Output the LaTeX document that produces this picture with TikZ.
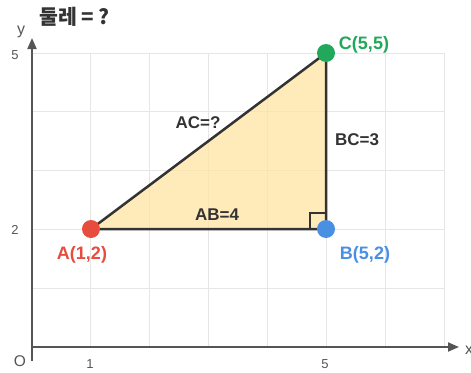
\documentclass[tikz,border=0pt]{standalone}
\usepackage{fontspec}
\setmainfont{Liberation Sans}
\newfontfamily\krfont{Noto Sans CJK KR}
\usetikzlibrary{arrows.meta}
\definecolor{axisgray}{HTML}{555555}
\definecolor{gridgray}{HTML}{E6E6E6}
\definecolor{edgedark}{HTML}{333333}
\definecolor{trifill}{HTML}{FFE3A3}
\definecolor{ptred}{HTML}{E74C3C}
\definecolor{ptblue}{HTML}{4A90E2}
\definecolor{ptgreen}{HTML}{22A85A}
\tikzset{
  gridline/.style={draw=gridgray, line width=1pt},
  axisline/.style={draw=axisgray, line width=2pt, -{Triangle[length=11pt,width=9pt]}},
  ticklbl/.style={font=\fontsize{13}{13}\selectfont, text=axisgray, inner sep=0pt},
  dot/.style={circle, inner sep=0pt, minimum size=18pt},
  ptlbl/.style={font=\fontsize{18}{18}\selectfont\bfseries, inner sep=0pt},
  seglbl/.style={font=\fontsize{17}{17}\selectfont\bfseries, text=edgedark, inner sep=0pt},
  edge/.style={draw=edgedark, line width=2.5pt, line join=round}
}
\begin{document}
\begin{tikzpicture}[x=1pt,y=-1pt]
\useasboundingbox (0,0) rectangle (471,372);
% grid
\foreach \i in {1,...,7} {
  \draw[gridline] ({32+58.86*\i},53) -- ({32+58.86*\i},347);
}
\foreach \j in {1,...,5} {
  \draw[gridline] (32,{347-58.8*\j}) -- (444,{347-58.8*\j});
}
% axes
\coordinate (xs) at (32,347);
\coordinate (xe) at (459,347);
\coordinate (ys) at (32,361);
\coordinate (ye) at (32,38);
\draw[axisline] (xs) -- (xe);
\draw[axisline] (ys) -- (ye);
% points
\coordinate (A) at (91,229);
\coordinate (B) at (326,229);
\coordinate (C) at (326,53);
\fill[trifill, fill opacity=0.75] (A) -- (B) -- (C) -- cycle;
\draw[edge] (A) -- (B) -- (C) -- cycle;
% right angle mark
\coordinate (r1) at (310,229);
\coordinate (r2) at (310,213);
\coordinate (r3) at (326,213);
\draw[draw=edgedark, line width=1.6pt] (r1) -- (r2) -- (r3);
\node[dot, fill=ptred] (dA) at (A) {};
\node[dot, fill=ptblue] (dB) at (B) {};
\node[dot, fill=ptgreen] (dC) at (C) {};
% labels
\node[ptlbl, text=ptred] (lA) at (82,255) {A(1,2)};
\node[ptlbl, text=ptblue] (lB) at (365,255) {B(5,2)};
\node[ptlbl, text=ptgreen] (lC) at (364,45) {C(5,5)};
\node[seglbl] (lAC) at (198,123) {AC=?};
\node[seglbl] (lBC) at (357,140) {BC=3};
\node[seglbl] (lAB) at (217,215) {AB=4};
% ticks
\node[ticklbl] (t1) at (90,364) {1};
\node[ticklbl] (t5) at (325,364) {5};
\node[ticklbl] (t2) at (15,230) {2};
\node[ticklbl] (t5y) at (15,55) {5};
\node[ticklbl, font=\fontsize{15.5}{15.5}\selectfont] (tO) at (20,361) {O};
\node[ticklbl, font=\fontsize{16}{16}\selectfont, anchor=west] (tx) at (465,350) {x};
\node[ticklbl, font=\fontsize{16}{16}\selectfont] (ty) at (21,32) {y};
% title
\node[font=\krfont\bfseries\fontsize{20.5}{20.5}\selectfont, text=edgedark, inner sep=0pt, anchor=west] (title) at (39,17) {둘레 = ?};
\end{tikzpicture}
\end{document}
